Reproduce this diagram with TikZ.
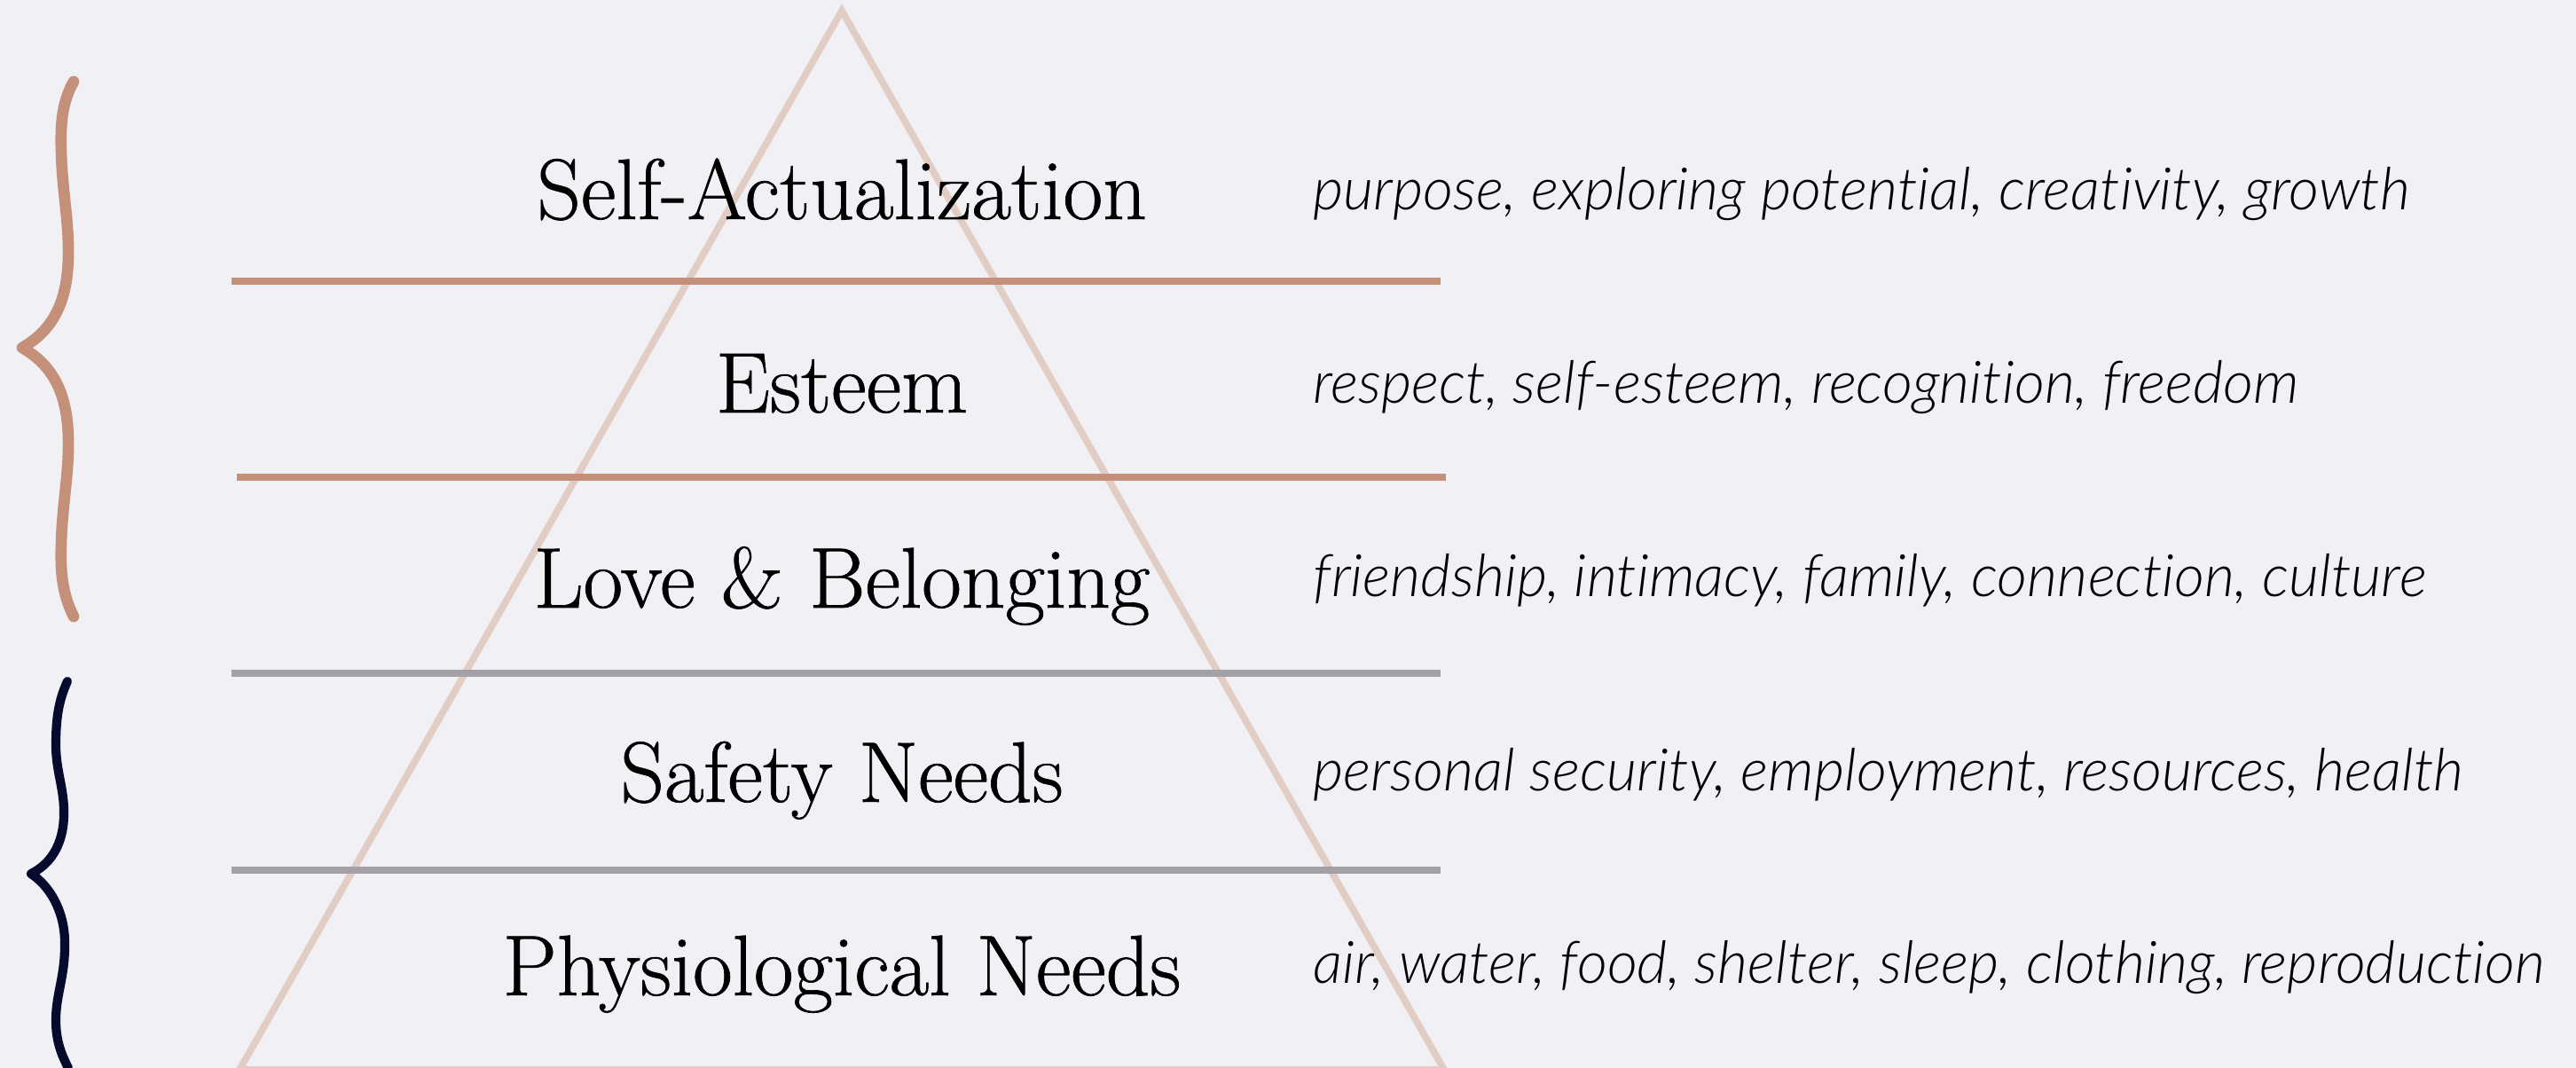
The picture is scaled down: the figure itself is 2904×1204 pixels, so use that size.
\documentclass[tikz,border=0pt]{standalone}
\usepackage{fontspec}
\newfontfamily\descfont{Lato Light Italic}[Ligatures=NoCommon]
\newfontfamily\headfont{Latin Modern Roman}[FakeBold=0.7]
\definecolor{bgc}{HTML}{F0F0F5}
\definecolor{brownc}{HTML}{C4907A}
\definecolor{greyc}{HTML}{A3A0A8}
\definecolor{trianc}{HTML}{E2CDC5}
\definecolor{navyc}{HTML}{060B2E}
\begin{document}
\begin{tikzpicture}[x=0.01cm,y=-0.01cm,
  head/.style={anchor=base, inner sep=0pt, font=\headfont\fontsize{27.6}{32}\selectfont, text=black},
  desc/.style={anchor=base west, inner sep=0pt, font=\descfont\fontsize{18.8}{22}\selectfont, text=black},
  sepline/.style={line width=2.2pt},
  bracebrown/.style={draw=brownc, line width=3.6pt, line cap=round, line join=round},
  bracenavy/.style={draw=navyc, line width=2.9pt, line cap=round, line join=round}]
\fill[bgc] (0,0) rectangle (2904,1204);
\useasboundingbox (0,0) rectangle (2904,1204);
% triangle
\draw[trianc, line width=2.2pt, line join=miter] (949,12) -- (1628,1206) -- (270,1206) -- cycle;
% separators
\draw[sepline, brownc] (261,317) -- (1624,317);
\draw[sepline, brownc] (267,538) -- (1630,538);
\draw[sepline, greyc] (261,759) -- (1624,759);
\draw[sepline, greyc] (261,981) -- (1624,981);
% headings
\node[head] (h1) at (949,247) {Self-Actualization};
\node[head] (h2) at (949,465) {Esteem};
\node[head] (h3) at (949,685) {Love \& Belonging};
\node[head] (h4) at (949,904) {Safety Needs};
\node[head] (h5) at (949,1122) {Physiological Needs};
% descriptions
\node[desc] (d1) at (1480,237) {purpose, exploring potential, creativity, growth};
\node[desc] (d2) at (1480,455) {respect, self-esteem, recognition, freedom};
\node[desc] (d3) at (1480,673) {friendship, intimacy, family, connection, culture};
\node[desc] (d4) at (1480,891) {personal security, employment, resources, health};
\node[desc] (d5) at (1480,1108) {air, water, food, shelter, sleep, clothing, reproduction};
% braces
\draw[bracebrown] (83,92) .. controls (70,115) and (68,140) .. (69,170)
  .. controls (70,215) and (78,250) .. (77,290)
  .. controls (76,340) and (60,372) .. (25,392)
  .. controls (60,412) and (76,444) .. (77,494)
  .. controls (78,534) and (70,569) .. (69,614)
  .. controls (68,644) and (70,669) .. (83,695);
\draw[bracenavy] (76,768) .. controls (66,790) and (63,810) .. (63,840)
  .. controls (63,870) and (73,890) .. (72,920)
  .. controls (71,955) and (55,975) .. (35,985)
  .. controls (55,998) and (72,1025) .. (73,1060)
  .. controls (74,1100) and (63,1120) .. (63,1150)
  .. controls (63,1175) and (70,1190) .. (77,1204);
\end{tikzpicture}
\end{document}
